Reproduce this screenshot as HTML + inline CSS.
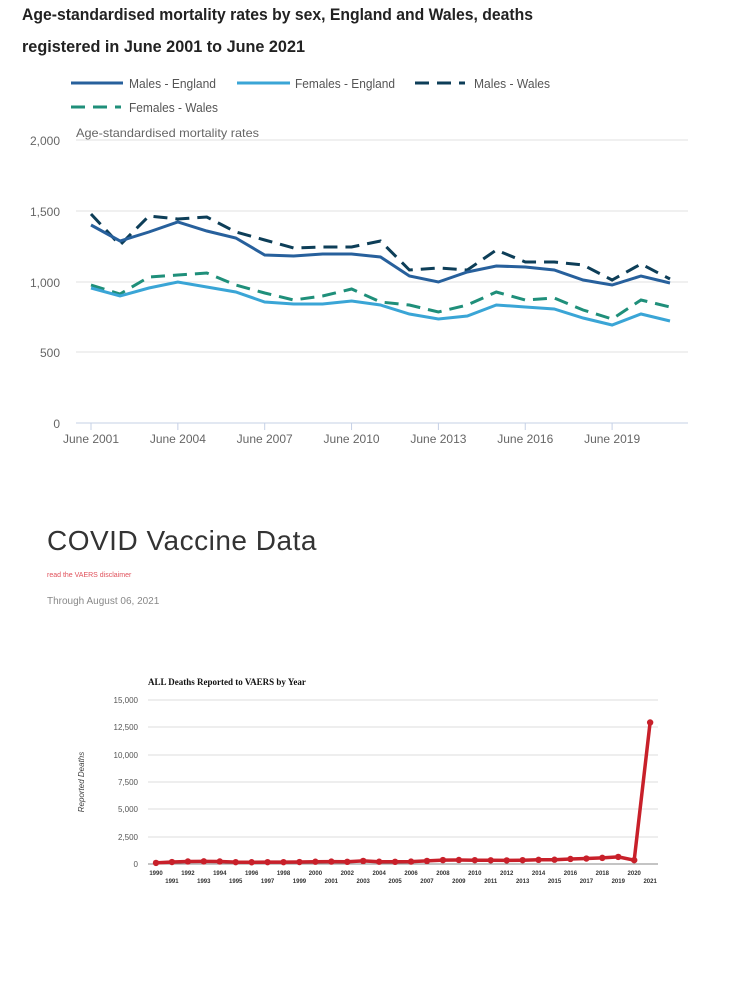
<!DOCTYPE html>
<html><head><meta charset="utf-8"><style>
html,body{margin:0;padding:0;background:#fff;}
body{width:740px;height:1000px;overflow:hidden;position:relative;font-family:"Liberation Sans",sans-serif;}
</style></head><body>
<svg id="s" width="740" height="1000" xmlns="http://www.w3.org/2000/svg" style="position:absolute;left:0;top:0">
<text x="22" y="20" font-size="16.5" font-weight="bold" fill="#222" textLength="511" lengthAdjust="spacingAndGlyphs">Age-standardised mortality rates by sex, England and Wales, deaths</text>
<text x="22" y="52" font-size="16.5" font-weight="bold" fill="#222" textLength="283" lengthAdjust="spacingAndGlyphs">registered in June 2001 to June 2021</text>
<g font-size="12.5" fill="#555">
<line x1="71" y1="83" x2="123" y2="83" stroke="#27609c" stroke-width="3"/><text x="129" y="88" textLength="87" lengthAdjust="spacingAndGlyphs">Males - England</text>
<line x1="237" y1="83" x2="290" y2="83" stroke="#3aa5d6" stroke-width="3"/><text x="295" y="88" textLength="100" lengthAdjust="spacingAndGlyphs">Females - England</text>
<line x1="415" y1="83" x2="465" y2="83" stroke="#0d3e58" stroke-width="3" stroke-dasharray="14,8"/><text x="474" y="88" textLength="76" lengthAdjust="spacingAndGlyphs">Males - Wales</text>
<line x1="71" y1="107" x2="121" y2="107" stroke="#1f8f7a" stroke-width="3" stroke-dasharray="14,8"/><text x="129" y="112" textLength="89" lengthAdjust="spacingAndGlyphs">Females - Wales</text>
</g>
<g stroke="#e2e2e2" stroke-width="1">
<line x1="76" y1="140" x2="688" y2="140"/><line x1="76" y1="211" x2="688" y2="211"/><line x1="76" y1="282" x2="688" y2="282"/><line x1="76" y1="352" x2="688" y2="352"/>
</g>
<line x1="76" y1="423" x2="688" y2="423" stroke="#c5d0e6" stroke-width="1"/>
<text x="76" y="137" font-size="12" fill="#666" textLength="183" lengthAdjust="spacingAndGlyphs">Age-standardised mortality rates</text>
<g font-size="12" fill="#666" text-anchor="end">
<text x="60" y="145">2,000</text><text x="60" y="216">1,500</text><text x="60" y="287">1,000</text><text x="60" y="357">500</text><text x="60" y="428">0</text>
</g>
<g id="xt" font-size="12" fill="#666" text-anchor="middle"></g>
<g id="lines" fill="none" stroke-width="3"></g>

<text x="47" y="550" font-size="28" fill="#333" letter-spacing="0.5">COVID Vaccine Data</text>
<text x="47" y="577" font-size="7" fill="#e0505a">read the VAERS disclaimer</text>
<text x="47" y="604" font-size="10" fill="#888">Through August 06, 2021</text>

<text x="148" y="685" font-size="9" font-weight="bold" font-family="Liberation Serif,serif" fill="#111">ALL Deaths Reported to VAERS by Year</text>
<g stroke="#dcdcdc" stroke-width="1">
<line x1="148" y1="700" x2="658" y2="700"/><line x1="148" y1="727" x2="658" y2="727"/><line x1="148" y1="755" x2="658" y2="755"/><line x1="148" y1="782" x2="658" y2="782"/><line x1="148" y1="809" x2="658" y2="809"/><line x1="148" y1="837" x2="658" y2="837"/>
</g>
<line x1="148" y1="864" x2="658" y2="864" stroke="#888" stroke-width="1"/>
<g font-size="8" fill="#555" text-anchor="end">
<text x="138" y="703">15,000</text><text x="138" y="730">12,500</text><text x="138" y="758">10,000</text><text x="138" y="785">7,500</text><text x="138" y="812">5,000</text><text x="138" y="840">2,500</text><text x="138" y="867">0</text>
</g>
<text transform="translate(84,782) rotate(-90)" font-size="8" font-style="italic" fill="#444" text-anchor="middle">Reported Deaths</text>
<g id="vx" font-size="6" fill="#333" text-anchor="middle" font-weight="bold"></g>
<g id="vl"></g>
</svg>
<script>
var ns="http://www.w3.org/2000/svg";
function el(p,t,a,txt){var e=document.createElementNS(ns,t);for(var k in a)e.setAttribute(k,a[k]);if(txt)e.textContent=txt;document.getElementById(p).appendChild(e);return e;}
function X(i){return 91+i*28.95;}
var lbl=["June 2001","June 2004","June 2007","June 2010","June 2013","June 2016","June 2019"];
for(var j=0;j<7;j++){var x=X(j*3);el("xt","line",{x1:x,y1:423,x2:x,y2:430,stroke:"#c5d0e6"});el("xt","text",{x:x,y:443},lbl[j]);}
var S=[
["#0d3e58","14,8",[214,245,216,219,217,232,240,248,247,247,241,270,268,270,250,262,262,265,280,264,279]],
["#1f8f7a","14,8",[285,294,277,275,273,285,293,300,296,289,302,305,312,305,292,300,298,310,319,300,307]],
["#27609c","",[225,241,232,222,231,238,255,256,254,254,257,276,282,272,266,267,270,280,285,276,283]],
["#3aa5d6","",[288,296,288,282,287,292,302,304,304,301,305,314,319,316,305,307,309,318,325,314,321]]];
S.forEach(function(s){var p=s[2].map(function(y,i){return X(i).toFixed(1)+","+y;}).join(" ");var a={points:p,stroke:s[0]};if(s[1])a["stroke-dasharray"]=s[1];el("lines","polyline",a);});
var v=[100,180,230,240,230,170,160,170,170,180,210,220,200,280,210,200,220,280,360,370,350,340,330,350,380,390,460,500,560,650,350,12950];
function VX(i){return 156+i*15.94;}
var pts=v.map(function(d,i){return VX(i).toFixed(1)+","+(864-d*0.01093).toFixed(1);}).join(" ");
el("vl","polyline",{points:pts,fill:"none",stroke:"#c8202a","stroke-width":3.5,"stroke-linejoin":"round"});
v.forEach(function(d,i){el("vl","circle",{cx:VX(i),cy:864-d*0.01093,r:3.2,fill:"#c8202a"});
el("vx","text",{x:VX(i),y:i%2?883:875},String(1990+i));});
</script>
</body></html>
